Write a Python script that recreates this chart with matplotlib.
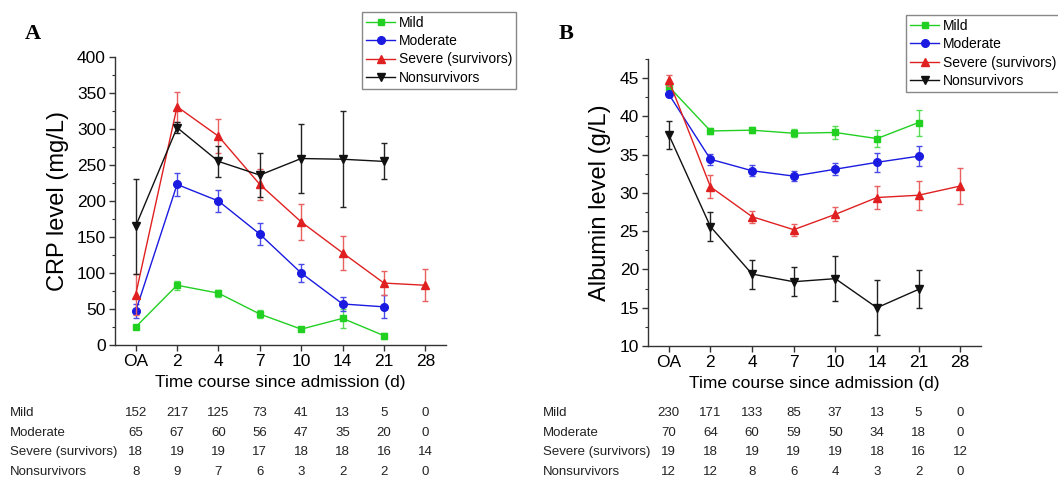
import matplotlib
matplotlib.use('Agg')
import matplotlib.pyplot as plt
import matplotlib.transforms as mtransforms
from matplotlib.ticker import MultipleLocator
from matplotlib.lines import Line2D

plt.rcParams['font.family'] = ['Liberation Sans', 'DejaVu Sans']

time_labels = ['OA', '2', '4', '7', '10', '14', '21', '28']
groups = ['Mild', 'Moderate', 'Severe (survivors)', 'Nonsurvivors']

# Panel A: CRP (mg/L)
crp_mild = [25, 83, 72, 43, 22, 37, 13]
crp_mild_err = [3, 6, 5, 5, 3, 13, 4]
crp_moderate = [47, 223, 200, 154, 100, 57, 53]
crp_moderate_err = [10, 16, 15, 15, 13, 10, 16]
crp_severe = [70, 331, 290, 223, 171, 128, 86, 83]
crp_severe_err = [29, 21, 24, 21, 25, 24, 17, 22]
crp_nonsurv = [165, 302, 255, 236, 259, 258, 255]
crp_nonsurv_err = [66, 8, 22, 30, 48, 67, 25]

# Panel B: Albumin (g/L)
alb_mild = [43.9, 38.1, 38.2, 37.8, 37.9, 37.1, 39.2]
alb_mild_err = [0.5, 0.4, 0.4, 0.5, 0.8, 1.1, 1.7]
alb_moderate = [42.9, 34.4, 32.9, 32.2, 33.1, 34.0, 34.8]
alb_moderate_err = [0.4, 0.7, 0.7, 0.7, 0.8, 1.2, 1.3]
alb_severe = [44.7, 30.8, 26.9, 25.2, 27.2, 29.4, 29.7, 30.9]
alb_severe_err = [0.7, 1.5, 0.8, 0.8, 0.9, 1.5, 1.9, 2.4]
alb_nonsurv = [37.6, 25.6, 19.4, 18.4, 18.8, 15.0, 17.4]
alb_nonsurv_err = [1.8, 1.9, 1.9, 1.9, 2.9, 3.6, 2.5]

# Number of patients tables
crp_n_mild = [152, 217, 125, 73, 41, 13, 5, 0]
crp_n_moderate = [65, 67, 60, 56, 47, 35, 20, 0]
crp_n_severe = [18, 19, 19, 17, 18, 18, 16, 14]
crp_n_nonsurv = [8, 9, 7, 6, 3, 2, 2, 0]

alb_n_mild = [230, 171, 133, 85, 37, 13, 5, 0]
alb_n_moderate = [70, 64, 60, 59, 50, 34, 18, 0]
alb_n_severe = [19, 18, 19, 19, 19, 18, 16, 12]
alb_n_nonsurv = [12, 12, 8, 6, 4, 3, 2, 0]

colors = ['#22d022', '#1a1ae0', '#e02020', '#111111']
ecolors = ['#55dd55', '#4a4ae8', '#e86060', '#222222']
markers = ['s', 'o', '^', 'v']
msizes = [5, 5.5, 5.5, 5.5]

W, H = 1058, 482
fig = plt.figure(figsize=(W / 100, H / 100), dpi=100)

def px_axes(l, t, r, b):
    return fig.add_axes([l / W, 1 - b / H, (r - l) / W, (b - t) / H])

axA = px_axes(115, 57, 446, 345)
axB = px_axes(648, 59, 981, 346)

def draw(ax, series, errs, ylim, major, minor, ylabel):
    handles = []
    for i, (vals, er) in enumerate(zip(series, errs)):
        x = list(range(len(vals)))
        ax.errorbar(x, vals, yerr=er, color=colors[i], ecolor=ecolors[i],
                    marker=markers[i], markersize=msizes[i], lw=1.0,
                    elinewidth=1.0, capsize=2.5, capthick=1.0,
                    zorder=3 + i)
        handles.append(Line2D([], [], color=colors[i], marker=markers[i],
                              markersize=msizes[i], lw=1.0))
    ax.set_xlim(-0.5, 7.5)
    ax.set_ylim(*ylim)
    ax.set_xticks(range(len(time_labels)))
    ax.set_xticklabels(time_labels)
    ax.yaxis.set_major_locator(MultipleLocator(major))
    ax.yaxis.set_minor_locator(MultipleLocator(minor))
    ax.tick_params(axis='both', which='major', direction='out', length=4,
                   width=1, labelsize=12.5, color='#333333', pad=2.5)
    ax.tick_params(axis='y', which='minor', direction='out', length=2.5,
                   width=0.8, color='#333333')
    for s in ['top', 'right']:
        ax.spines[s].set_visible(False)
    for s in ['left', 'bottom']:
        ax.spines[s].set_linewidth(1.0)
        ax.spines[s].set_color('#333333')
    ax.set_xlabel('Time course since admission (d)', fontsize=12.5, labelpad=4)
    ax.set_ylabel(ylabel, fontsize=17, labelpad=6)
    return handles

hA = draw(axA, [crp_mild, crp_moderate, crp_severe, crp_nonsurv],
          [crp_mild_err, crp_moderate_err, crp_severe_err, crp_nonsurv_err],
          (0, 400), 50, 25, 'CRP level (mg/L)')
hB = draw(axB, [alb_mild, alb_moderate, alb_severe, alb_nonsurv],
          [alb_mild_err, alb_moderate_err, alb_severe_err, alb_nonsurv_err],
          (10, 47.5), 5, 2.5, 'Albumin level (g/L)')

for handles, (lx, ly) in [(hA, (362, 12)), (hB, (906, 15))]:
    leg = fig.legend(handles, groups, loc='upper left',
                     bbox_to_anchor=(lx / W, 1 - ly / H), borderaxespad=0,
                     fontsize=10, handlelength=2.1, handletextpad=0.25,
                     labelspacing=0.3, borderpad=0.3, fancybox=False,
                     framealpha=1, edgecolor='#888888')
    leg.get_frame().set_linewidth(1.0)

fig.text(33 / W, 1 - 34 / H, 'A', fontsize=16, fontweight='bold',
         family=['Liberation Serif', 'DejaVu Serif'], ha='center', va='center')
fig.text(566 / W, 1 - 34 / H, 'B', fontsize=16, fontweight='bold',
         family=['Liberation Serif', 'DejaVu Serif'], ha='center', va='center')

row_y = [413, 433, 452, 472]
for ax, lab_x, rows in [
        (axA, 10, [crp_n_mild, crp_n_moderate, crp_n_severe, crp_n_nonsurv]),
        (axB, 543, [alb_n_mild, alb_n_moderate, alb_n_severe, alb_n_nonsurv])]:
    trans = mtransforms.blended_transform_factory(ax.transData, fig.transFigure)
    for g, vals, y in zip(groups, rows, row_y):
        fig.text(lab_x / W, 1 - y / H, g, fontsize=9.5, ha='left',
                 va='center', color='#222222')
        for j, v in enumerate(vals):
            fig.text(j, 1 - y / H, str(v), fontsize=9.5, ha='center',
                     va='center', transform=trans, color='#222222')

fig.savefig('out.png', dpi=100)
